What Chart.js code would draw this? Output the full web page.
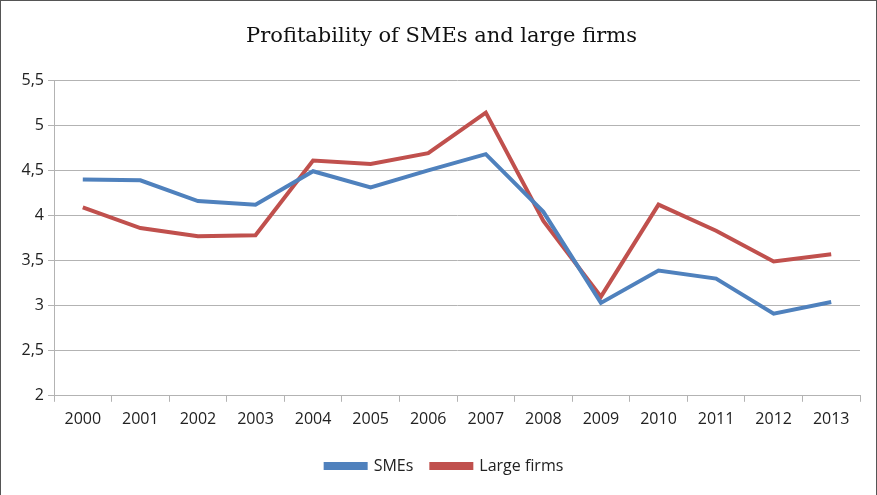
<!DOCTYPE html>
<html>
<head>
<meta charset="utf-8">
<script src="https://cdn.jsdelivr.net/npm/chart.js@4.4.1/dist/chart.umd.min.js"></script>
<style>
  html, body { margin: 0; padding: 0; background: #fff; }
  #wrap { width: 877px; height: 495px; box-sizing: border-box; border: 1px solid #555; border-bottom: none; }
</style>
</head>
<body>
<div id="wrap"><canvas id="profitChart" width="875" height="494"></canvas></div>
<script>
// years and values
const years = ['2000', '2001', '2002', '2003', '2004', '2005', '2006', '2007', '2008', '2009', '2010', '2011', '2012', '2013'];
const smes = [4.40, 4.39, 4.16, 4.12, 4.49, 4.31, 4.50, 4.68, 4.04, 3.03, 3.39, 3.30, 2.91, 3.04];
const largeFirms = [4.09, 3.86, 3.77, 3.78, 4.61, 4.57, 4.69, 5.14, 3.94, 3.10, 4.12, 3.83, 3.49, 3.57];

const blue = '#4f81bd';
const red = '#c0504d';
const tickFont = { family: 'Open Sans', size: 16 };

// nudge title and legend a bit to the right, like in the original
const boxShift = {
    id: 'boxShift',
    afterLayout(chart) {
        chart.legend.left += 14;
        chart.legend.right += 14;
        chart.titleBlock.left += 11;
        chart.titleBlock.right += 11;
    }
};

const ctx = document.getElementById('profitChart').getContext('2d');
const chart = new Chart(ctx, {
    type: 'line',
    data: {
        labels: years,
        datasets: [{
            label: 'SMEs',
            data: smes,
            borderColor: blue,
            backgroundColor: blue,
            borderWidth: 4,
            pointRadius: 0,
            tension: 0
        }, {
            label: 'Large firms',
            data: largeFirms,
            borderColor: red,
            backgroundColor: red,
            borderWidth: 4,
            pointRadius: 0,
            tension: 0
        }]
    },
    options: {
        responsive: false,
        animation: false,
        layout: {
            padding: { left: 0, right: 16, top: 0, bottom: 11 }
        },
        scales: {
            x: {
                offset: true,
                afterFit: function(scale) { scale.height += 3; },
                grid: {
                    offset: true,
                    drawOnChartArea: false,
                    color: '#b3b3b3',
                    tickLength: 6
                },
                border: { color: '#b3b3b3' },
                ticks: { color: '#222', font: tickFont, maxRotation: 0, padding: 8 }
            },
            y: {
                min: 2,
                max: 5.5,
                afterFit: function(scale) { scale.width = 53; },
                grid: {
                    color: '#b3b3b3',
                    tickLength: 6
                },
                border: { color: '#b3b3b3' },
                ticks: {
                    stepSize: 0.5,
                    color: '#222',
                    font: tickFont,
                    padding: 4,
                    callback: function(value) { return String(value).replace('.', ','); }
                }
            }
        },
        plugins: {
            title: {
                display: true,
                text: 'Profitability of SMEs and large firms',
                color: '#111',
                font: { family: 'DejaVu Serif', size: 21, weight: 'normal' },
                padding: { top: 23, bottom: 31 }
            },
            legend: {
                position: 'bottom',
                labels: {
                    color: '#222',
                    font: tickFont,
                    boxWidth: 40,
                    boxHeight: 4,
                    padding: 18
                }
            },
            tooltip: { enabled: false }
        }
    },
    plugins: [boxShift]
});
</script>
</body>
</html>
